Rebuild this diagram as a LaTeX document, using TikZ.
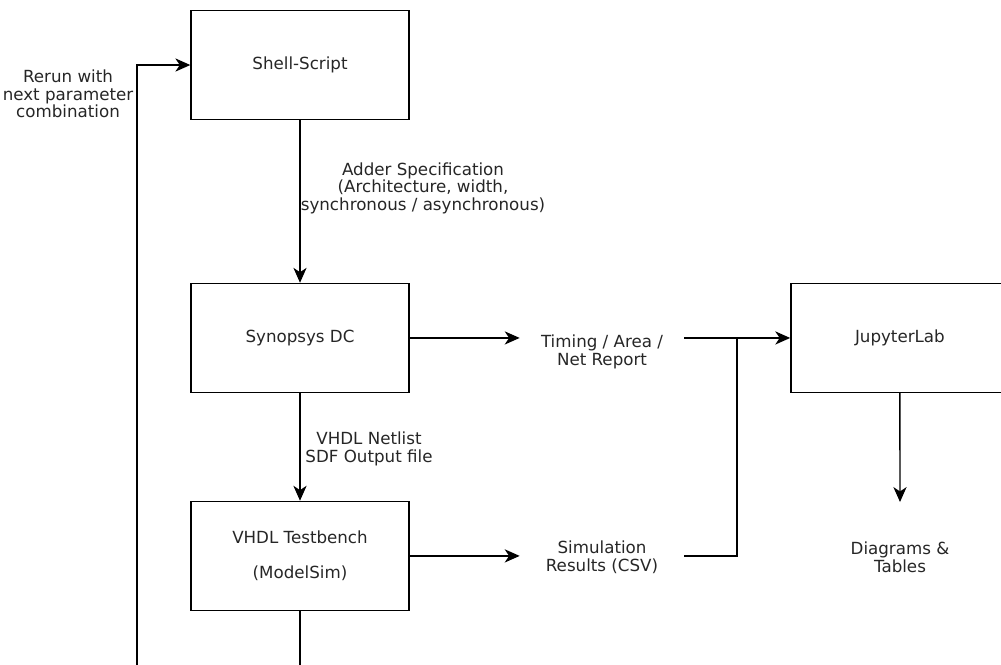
\documentclass[tikz,border=0pt]{standalone}
\usepackage{fontspec}
\setmainfont{DejaVu Sans}
\usepackage{tikz}
\usetikzlibrary{arrows.meta}
\tikzstyle{process} = [rectangle, minimum width=4.36cm, minimum height=2.18cm, align=center, draw=black, line width=0.8pt, text=black!85]
\tikzstyle{note} = [align=center, inner sep=0pt, text=black!85]
\tikzstyle{arrow} = [line width=0.8pt, -{Stealth[length=8.5pt,width=7.5pt,inset=2.5pt]}]
\tikzstyle{wire} = [line width=0.8pt]

\begin{document}
\begin{tikzpicture}[x=0.02cm, y=-0.02cm, font=\fontsize{9.5}{10}\selectfont]
        \clip (0,0) rectangle (1001,664);
        \node (shell) [process] at (300,65) {Shell-Script};
        \node (synth) [process, below of=shell, node distance=5.46cm] {Synopsys DC};
        \draw [arrow] (shell) -- (synth);
        \node (spec) [note] at (423,188) {Adder Specification\\(Architecture, width,\\synchronous / asynchronous)};
        \node (tb) [process, below of=synth, node distance=4.36cm] {VHDL Testbench\\[10pt](ModelSim)};
        \draw [arrow] (synth) -- (tb);
        \node (netlist) [note] at (369,449) {VHDL Netlist\\SDF Output file};
        \node (jupyter) [process, right of=synth, node distance=12cm] {JupyterLab};
        \node (report) [note, minimum width=3.28cm] at (602,352) {Timing / Area /\\Net Report};
        \draw [arrow] (synth.east) -- (report.west |- synth.east);
        \draw [arrow] (report.east |- synth.east) -- (jupyter.west);
        \node (simres) [note, minimum width=3.28cm] at (602,557) {Simulation\\Results (CSV)};
        \draw [arrow] (tb.east) -- (simres.west |- tb.east);
        \coordinate (merge) at (737,338);
        \draw [wire] (simres.east |- tb.east) -| (merge);
        \node (plots) [note] at (900,557) {Diagrams \&\\Tables};
        \draw [arrow] (jupyter.south) -- (900,502);
        % loop back to the script
        \coordinate (back) at (137,680);
        \draw [arrow] (tb.south) |- (back) |- (shell.west);
        \node (rerun) [note] at (68,94) {Rerun with\\next parameter\\combination};
    \end{tikzpicture}
\end{document}
